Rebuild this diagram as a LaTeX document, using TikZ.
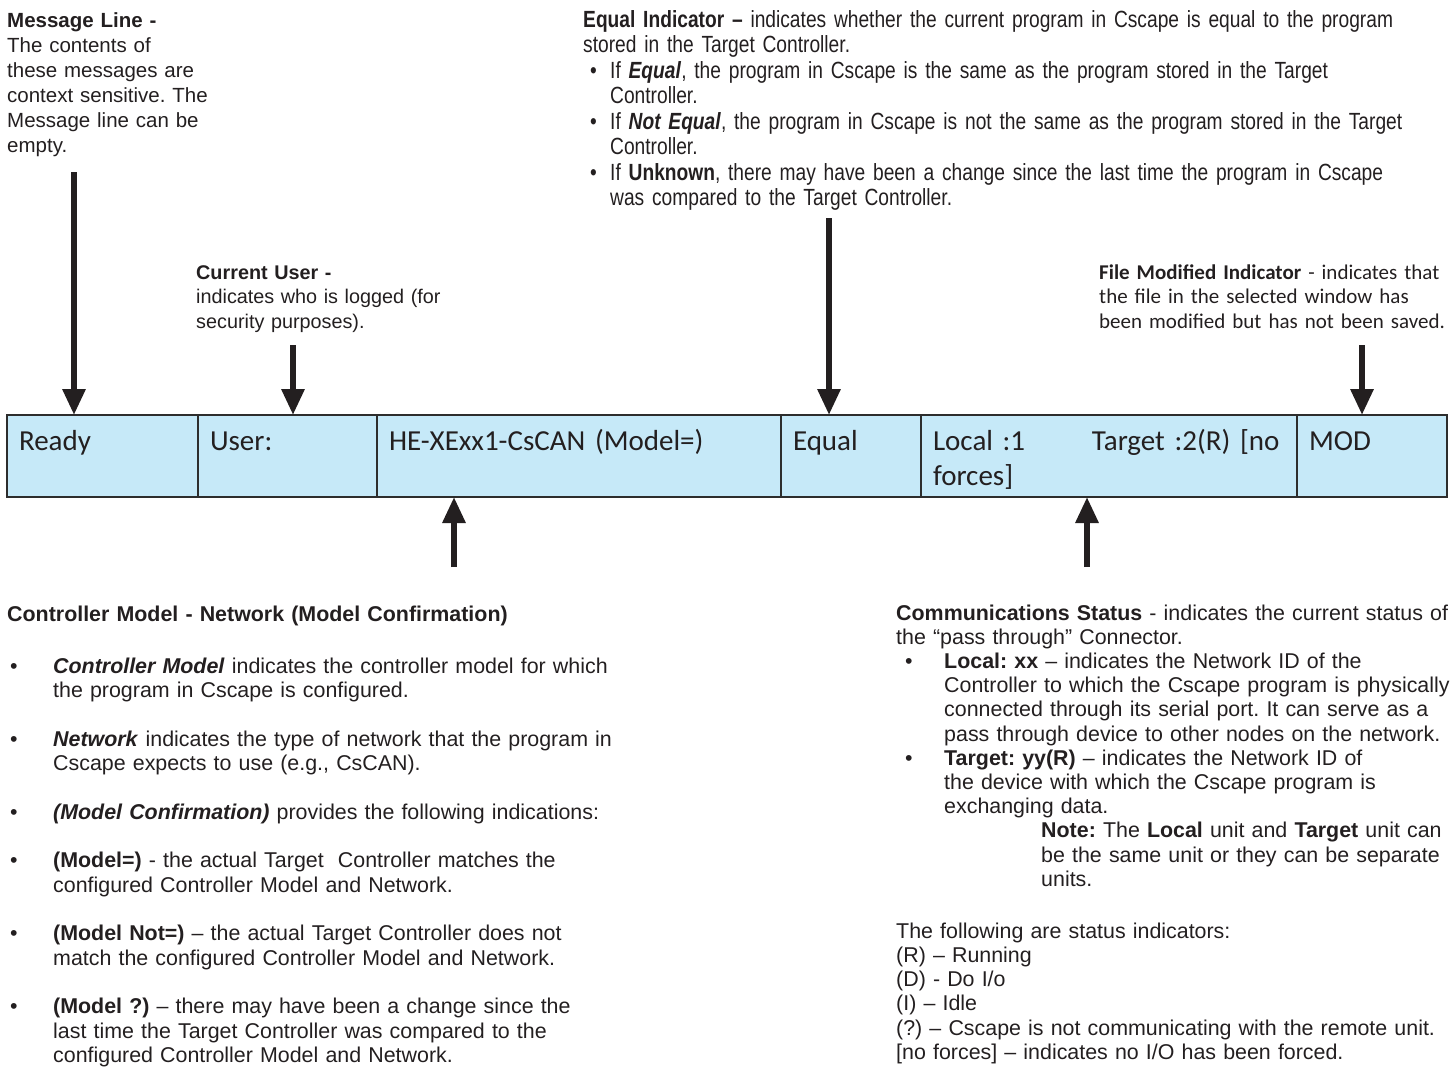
\documentclass[tikz,border=0pt]{standalone}
\usepackage{fontspec}
\setmainfont{Liberation Sans}
\newfontfamily\barfont{Carlito}
\newfontfamily\narrowfont[FakeStretch=0.82]{Liberation Sans}
\usetikzlibrary{arrows.meta, positioning}
\definecolor{BarFill}{RGB}{198, 233, 248}
\definecolor{BarLine}{RGB}{45, 45, 45}
\definecolor{InkColor}{RGB}{35, 31, 32}
\frenchspacing
% bullets for the three lists
\newcommand{\ebul}{\makebox[27pt][l]{\hspace{7pt}•}}
\newcommand{\cbul}{\makebox[46pt][l]{\hspace{3pt}•}}
\newcommand{\mbul}{\makebox[48pt][l]{\hspace{9pt}•}}

\begin{document}
\begin{tikzpicture}[
        x=1pt, y=-1pt,
        % Styles globaux
        base/.style={inner sep=0pt, anchor=base west, align=left, text=InkColor, text width=1000pt},
        % Textes explicatifs
        note/.style={base, font=\fontsize{20.5pt}{25pt}\selectfont},
        note_narrow/.style={base, font=\narrowfont\fontsize{23.4pt}{25.5pt}\selectfont},
        note_cal/.style={base, font=\barfont\fontsize{21pt}{24.6pt}\selectfont},
        note_low/.style={base, font=\fontsize{21.4pt}{24.2pt}\selectfont},
        % Cases de la barre d'etat
        cell/.style={draw=BarLine, line width=2.5pt, fill=BarFill, text=InkColor, align=left,
            inner xsep=12pt, inner ysep=0pt, outer sep=0pt, text height=35pt, text depth=47pt,
            font=\barfont\fontsize{29pt}{35pt}\selectfont},
        % Style des flèches
        pointer/.style={-{Triangle[width=22pt, length=26pt]}, line width=6pt, InkColor}
    ]
    \useasboundingbox (0,0) rectangle (1455,1087);

    % --- BARRE D'ETAT ---
    \node[cell, anchor=north west, text width=167pt] (ready) at (7,415) {Ready};
    \node[cell, text width=155pt, right=0pt of ready] (user) {User:};
    \node[cell, text width=380pt, right=0pt of user] (model) {HE-XExx1-CsCAN (Model=)};
    \node[cell, text width=116pt, right=0pt of model] (equal) {Equal};
    \node[cell, text width=352pt, right=0pt of equal] (comm) {\makebox[159pt][l]{Local :1}Target :2(R) [no\\forces]};
    \node[cell, text width=126pt, right=0pt of comm] (mod) {MOD};

    % --- TEXTES DU HAUT ---
    \node[note] (msgtext) at (7,27) {\textbf{Message Line -}\\The contents of\\these messages are\\context sensitive. The\\Message line can be\\empty.};
    \node[note, font=\fontsize{19.8pt}{24.6pt}\selectfont] (usertext) at (196,279) {\textbf{Current User -}\\indicates who is logged (for\\security purposes).};
    \node[note_narrow] (equaltext) at (583,27) {\textbf{Equal Indicator –} indicates whether the current program in Cscape is equal to the program\\
        stored in the Target Controller.\\
        \ebul If \textbf{\textit{Equal}}, the program in Cscape is the same as the program stored in the Target\\
        \hspace*{27pt}Controller.\\
        \ebul If \textbf{\textit{Not Equal}}, the program in Cscape is not the same as the program stored in the Target\\
        \hspace*{27pt}Controller.\\
        \ebul If \textbf{Unknown}, there may have been a change since the last time the program in Cscape\\
        \hspace*{27pt}was compared to the Target Controller.};
    \node[note_cal] (modtext) at (1099,279) {\textbf{File Modified Indicator} - indicates that\\the file in the selected window has\\been modified but has not been saved.};

    % --- TEXTES DU BAS ---
    \node[note_low] (modeltext) at (7,621) {\textbf{Controller Model - Network (Model Confirmation)}\\[27.8pt]
        \cbul\textbf{\textit{Controller Model}} indicates the controller model for which\\
        \hspace*{46pt}the program in Cscape is configured.\\[24.6pt]
        \cbul\textbf{\textit{Network}} indicates the type of network that the program in\\
        \hspace*{46pt}Cscape expects to use (e.g., CsCAN).\\[24.6pt]
        \cbul\textbf{\textit{(Model Confirmation)}} provides the following indications:\\[24.6pt]
        \cbul\textbf{(Model=)} - the actual Target\ \ Controller matches the\\
        \hspace*{46pt}configured Controller Model and Network.\\[24.6pt]
        \cbul\textbf{(Model Not=)} – the actual Target Controller does not\\
        \hspace*{46pt}match the configured Controller Model and Network.\\[24.6pt]
        \cbul\textbf{(Model ?)} – there may have been a change since the\\
        \hspace*{46pt}last time the Target Controller was compared to the\\
        \hspace*{46pt}configured Controller Model and Network.};
    \node[note_low] (commtext) at (896,620) {\textbf{Communications Status} - indicates the current status of\\
        the “pass through” Connector.\\
        \mbul\textbf{Local: xx} – indicates the Network ID of the\\
        \hspace*{48pt}Controller to which the Cscape program is physically\\
        \hspace*{48pt}connected through its serial port. It can serve as a\\
        \hspace*{48pt}pass through device to other nodes on the network.\\
        \mbul\textbf{Target: yy(R)} – indicates the Network ID of\\
        \hspace*{48pt}the device with which the Cscape program is\\
        \hspace*{48pt}exchanging data.\\
        \hspace*{145pt}\textbf{Note:} The \textbf{Local} unit and \textbf{Target} unit can\\
        \hspace*{145pt}be the same unit or they can be separate\\
        \hspace*{145pt}units.\\[27.8pt]
        The following are status indicators:\\
        (R) – Running\\
        (D) - Do I/o\\
        (I) – Idle\\
        (?) – Cscape is not communicating with the remote unit.\\
        {[}no forces] – indicates no I/O has been forced.};

    % --- FLÈCHES ---
    \coordinate (msgtail) at (74,172);
    \coordinate (usertail) at (293,345);
    \coordinate (equaltail) at (829,218);
    \coordinate (modtail) at (1362,345);
    \coordinate (modeltail) at (454,567);
    \coordinate (commtail) at (1087,567);
    \draw[pointer] (msgtail) -- (msgtail |- ready.north);
    \draw[pointer] (usertail) -- (usertail |- user.north);
    \draw[pointer] (equaltail) -- (equaltail |- equal.north);
    \draw[pointer] (modtail) -- (modtail |- mod.north);
    \draw[pointer] (modeltail) -- (modeltail |- model.south);
    \draw[pointer] (commtail) -- (commtail |- comm.south);

\end{tikzpicture}
\end{document}
